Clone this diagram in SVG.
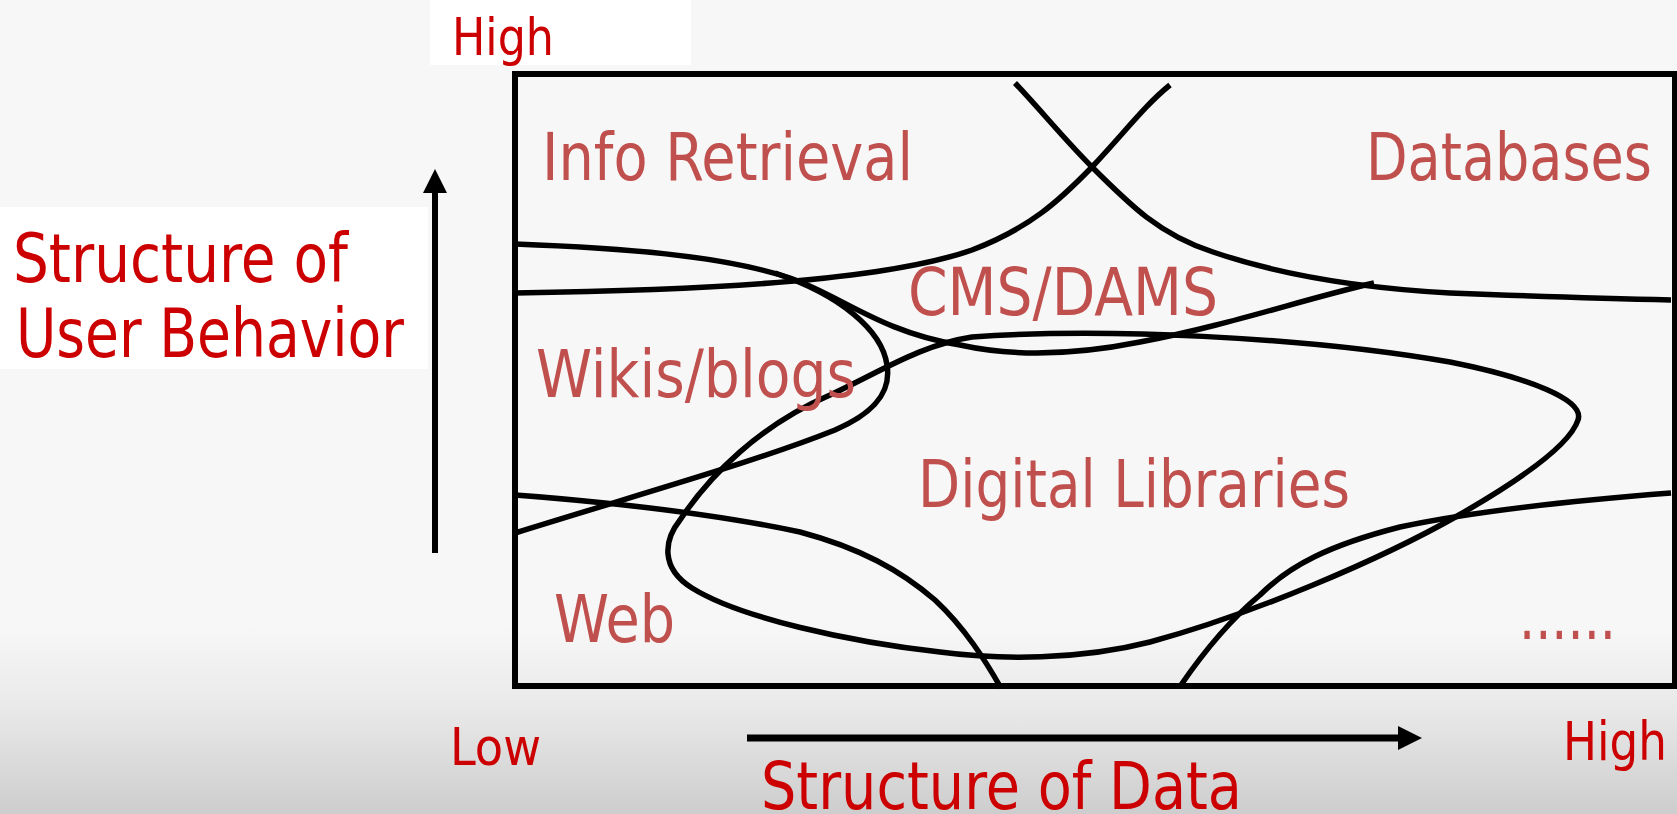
<svg xmlns="http://www.w3.org/2000/svg" width="1677" height="814" viewBox="0 0 1677 814">
  <defs>
    <linearGradient id="bg" x1="0" y1="0" x2="0" y2="814" gradientUnits="userSpaceOnUse">
      <stop offset="0" stop-color="#f7f7f7"/>
      <stop offset="0.77" stop-color="#f7f7f7"/>
      <stop offset="0.87" stop-color="#e9e9e9"/>
      <stop offset="1" stop-color="#cdcdcd"/>
    </linearGradient>
    <style>
      .axis { font-family: "DejaVu Sans Condensed", "DejaVu Sans", sans-serif; font-stretch: condensed; fill: #cc0000; }
      .region { font-family: "DejaVu Sans Condensed", "DejaVu Sans", sans-serif; font-stretch: condensed; fill: #c0504d; font-size: 66px; }
      .curve { fill: none; stroke: #000; stroke-width: 5.5; stroke-linecap: butt; stroke-linejoin: round; }
    </style>
  </defs>
  <rect x="0" y="0" width="1677" height="814" fill="url(#bg)"/>

  <g id="y-axis">
    <rect x="430" y="0" width="261" height="65" fill="#ffffff"/>
    <text class="axis" x="452" y="55" font-size="52" textLength="102" lengthAdjust="spacingAndGlyphs">High</text>
    <rect x="0" y="207" width="428" height="162" fill="#ffffff"/>
    <text class="axis" x="13" y="282" font-size="67" textLength="335" lengthAdjust="spacingAndGlyphs">Structure of</text>
    <text class="axis" x="16" y="357" font-size="67" textLength="388" lengthAdjust="spacingAndGlyphs">User Behavior</text>
    <line x1="435" y1="553" x2="435" y2="190" stroke="#000" stroke-width="6"/>
    <polygon points="423,193 447,193 435,169" fill="#000"/>
  </g>

  <g id="x-axis">
    <text class="axis" x="450" y="765" font-size="52" textLength="91" lengthAdjust="spacingAndGlyphs">Low</text>
    <text class="axis" x="1563" y="760" font-size="54" textLength="104" lengthAdjust="spacingAndGlyphs">High</text>
    <text class="axis" x="761" y="809" font-size="65" textLength="481" lengthAdjust="spacingAndGlyphs">Structure of Data</text>
    <line x1="747" y1="738" x2="1400" y2="738" stroke="#000" stroke-width="7"/>
    <polygon points="1398,726 1398,750 1422,738" fill="#000"/>
  </g>

  <g id="frame">
    <rect x="515" y="74" width="1160" height="612" fill="none" stroke="#000" stroke-width="6"/>
  </g>

  <g id="connectors">
    <path class="curve" d="M515,293 C700,290 880,282 972,250 C1030,228 1060,200 1092,167 C1125,132 1145,105 1170,85"/>
    <path class="curve" d="M1015,83 C1045,115 1065,140 1092,167 C1130,205 1160,235 1213,252 C1280,275 1360,288 1450,293 C1550,297 1620,299 1671,300"/>
    <path class="curve" d="M515,244 C620,248 720,255 790,278 C840,295 880,332 960,345 C1010,356 1070,356 1140,342 C1230,325 1300,300 1374,283"/>
    <path class="curve" d="M775,273 C840,295 882,330 887,365 C892,395 870,415 835,430 C760,460 660,488 515,533"/>
    <path class="curve" d="M972,337 C1100,328 1300,336 1450,362 C1530,378 1585,400 1578,420 C1570,445 1520,480 1459,515 C1380,560 1250,615 1150,642 C1080,660 1000,660 940,652 C850,642 740,618 692,588 C660,568 664,540 680,520 C710,475 760,425 830,395 C880,372 920,345 972,337 Z"/>
    <path class="curve" d="M515,495 C620,503 720,515 800,532 C860,548 900,570 935,600 C965,628 985,660 1001,688"/>
    <path class="curve" d="M1181,685 C1205,650 1230,620 1260,595 C1290,565 1330,545 1400,527 C1480,510 1580,500 1671,493"/>
  </g>

  <g id="info-retrieval"><text class="region" x="542" y="180" textLength="371" lengthAdjust="spacingAndGlyphs">Info Retrieval</text></g>
  <g id="databases"><text class="region" x="1366" y="180" textLength="286" lengthAdjust="spacingAndGlyphs">Databases</text></g>
  <g id="cms-dams"><text class="region" x="908" y="315" textLength="310" lengthAdjust="spacingAndGlyphs">CMS/DAMS</text></g>
  <g id="wikis-blogs"><text class="region" x="536" y="397" textLength="320" lengthAdjust="spacingAndGlyphs">Wikis/blogs</text></g>
  <g id="digital-libraries"><text class="region" x="918" y="507" textLength="432" lengthAdjust="spacingAndGlyphs">Digital Libraries</text></g>
  <g id="web"><text class="region" x="554" y="642" textLength="121" lengthAdjust="spacingAndGlyphs">Web</text></g>
  <g id="more"><text class="region" x="1519" y="639" textLength="97" lengthAdjust="spacingAndGlyphs">......</text></g>
</svg>
